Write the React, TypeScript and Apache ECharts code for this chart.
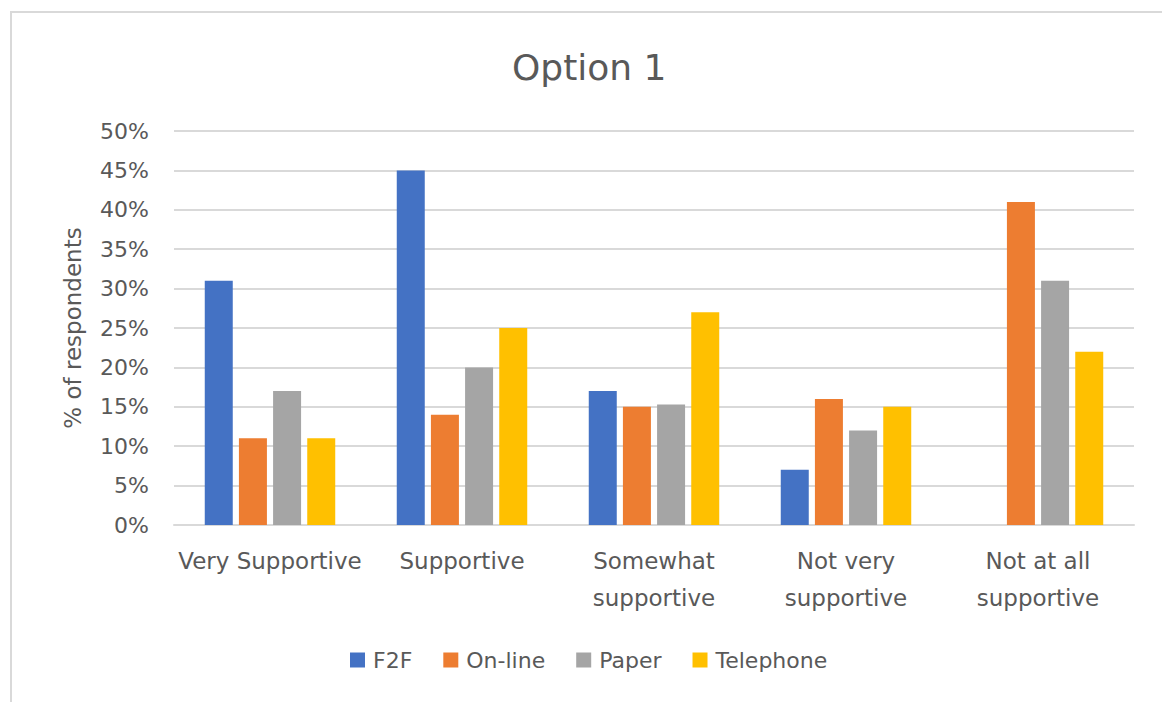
import React, { useEffect, useRef } from "react";
import * as echarts from "echarts";

const categories = ["Very Supportive", "Supportive", "Somewhat\nsupportive", "Not very\nsupportive", "Not at all\nsupportive"];
const seriesNames = ["F2F", "On-line", "Paper", "Telephone"];
const f2f = [0.31, 0.45, 0.17, 0.07, 0];
const online = [0.11, 0.14, 0.15, 0.16, 0.41];
const paper = [0.17, 0.20, 0.153, 0.12, 0.31];
const telephone = [0.11, 0.25, 0.27, 0.15, 0.22];
const colors = ["#4472C4", "#ED7D31", "#A5A5A5", "#FFC000"];

const FONT = "'DejaVu Sans', 'Open Sans', sans-serif";
const TXT = "#595959";

export default function App() {
  const ref = useRef<HTMLDivElement>(null);
  useEffect(() => {
    if (!ref.current) return;
    const chart = echarts.init(ref.current, null, { renderer: "svg" });
    const values = [f2f, online, paper, telephone];
    chart.setOption({
      animation: false,
      backgroundColor: "#ffffff",
      textStyle: { fontFamily: FONT },
      title: {
        text: "Option 1",
        left: 507,
        top: 44,
        textStyle: { fontFamily: FONT, fontSize: 36, fontWeight: "normal", color: TXT },
      },
      graphic: [
        {
          type: "rect",
          shape: { x: 11, y: 12, width: 1160, height: 700 },
          style: { fill: "none", stroke: "#D9D9D9", lineWidth: 2 },
          silent: true,
        },
      ],
      legend: {
        data: seriesNames,
        bottom: 26,
        left: 345,
        itemWidth: 15,
        itemHeight: 15,
        itemGap: 31,
        icon: "rect",
        textStyle: { fontFamily: FONT, fontSize: 22, color: TXT, padding: [0, 0, 0, 3] },
      },
      grid: { left: 174, right: 28, top: 131, bottom: 177 },
      xAxis: {
        type: "category",
        data: categories,
        axisLine: { show: true, lineStyle: { color: "#D9D9D9", width: 2 } },
        axisTick: { show: false },
        axisLabel: { fontFamily: FONT, fontSize: 23, color: TXT, margin: 17, lineHeight: 37, interval: 0 },
      },
      yAxis: {
        type: "value",
        min: 0,
        max: 0.5,
        interval: 0.05,
        name: "% of respondents",
        nameLocation: "middle",
        nameGap: 90,
        nameTextStyle: { fontFamily: FONT, fontSize: 23, color: TXT },
        axisLine: { show: false },
        axisTick: { show: false },
        splitLine: { lineStyle: { color: "#D9D9D9", width: 2 } },
        axisLabel: {
          fontFamily: FONT,
          fontSize: 22,
          color: TXT,
          margin: 25,
          formatter: (v: number) => Math.round(v * 100) + "%",
        },
      },
      series: seriesNames.map((name, i) => ({
        name,
        type: "bar",
        data: values[i],
        barWidth: 28,
        barGap: "22%",
        itemStyle: { color: colors[i] },
      })),
    });
    return () => chart.dispose();
  }, []);
  return <div ref={ref} style={{ position: "fixed", left: 0, top: 0, width: 1162, height: 702 }} />;
}
